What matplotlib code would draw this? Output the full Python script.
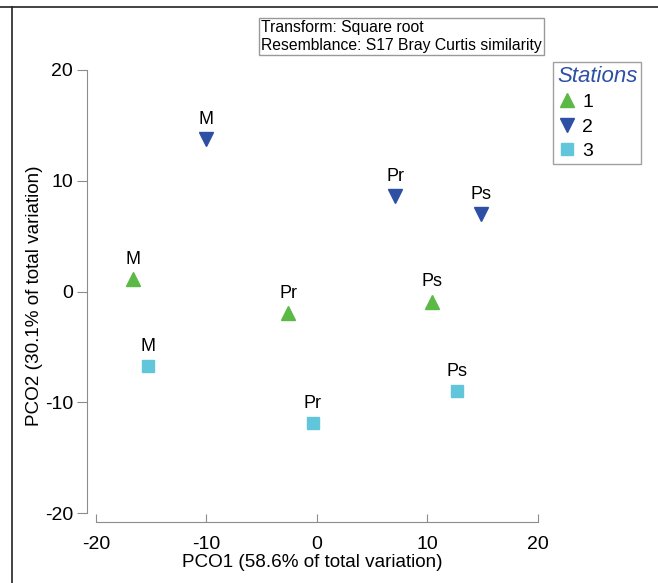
import matplotlib.pyplot as plt
from matplotlib.lines import Line2D

plt.rcParams['font.family'] = ['Liberation Sans', 'DejaVu Sans']
plt.rcParams['axes.unicode_minus'] = False

# PCO scores per station, sites M / Pr / Ps
sites = ["M", "Pr", "Ps"]
stations = ["1", "2", "3"]
pco1 = {
    "1": [-16.6, -2.6, 10.4],
    "2": [-10.0, 7.1, 14.8],
    "3": [-15.3, -0.4, 12.7],
}
pco2 = {
    "1": [1.1, -1.9, -0.9],
    "2": [13.8, 8.6, 7.0],
    "3": [-6.7, -11.9, -9.0],
}
ticks = [-20, -10, 0, 10, 20]

markers = {"1": "^", "2": "v", "3": "s"}
colors = {"1": "#5cb946", "2": "#2d4fa4", "3": "#62c6db"}
msizes = {"1": 10.5, "2": 10.5, "3": 9}

fig = plt.figure(figsize=(6.58, 5.83), dpi=100)
ax = fig.add_axes([87 / 658, 1 - 522 / 583, 451 / 658, 452 / 583])

for st in stations:
    ax.plot(pco1[st], pco2[st], linestyle="none", marker=markers[st],
            color=colors[st], markersize=msizes[st], label=st)
    for name, x, y in zip(sites, pco1[st], pco2[st]):
        ax.annotate(name, (x, y), xytext=(0, 8), textcoords="offset points",
                    ha="center", va="bottom", fontsize=13)

ax.set_xlim(-20.8, 20)
ax.set_ylim(-20.8, 20)
ax.set_xticks(ticks)
ax.set_yticks(ticks)
ax.spines["top"].set_visible(False)
ax.spines["right"].set_visible(False)
for s in ["left", "bottom"]:
    ax.spines[s].set_bounds(-20, 20)
    ax.spines[s].set_color("#8c8c8c")
ax.tick_params(axis="y", direction="out", length=7, color="#8c8c8c",
               labelsize=14, pad=3)
ax.tick_params(axis="x", direction="in", length=6, color="#8c8c8c",
               labelsize=14, pad=10)
ax.set_xlabel("PCO1 (58.6% of total variation)", fontsize=13.6, labelpad=1)
ax.set_ylabel("PCO2 (30.1% of total variation)", fontsize=13.6, labelpad=1)

# info box
fig.text(261 / 658, 1 - 36.5 / 583,
         "Transform: Square root\nResemblance: S17 Bray Curtis similarity",
         fontsize=11.3, va="center", ha="left", linespacing=1.25,
         bbox=dict(boxstyle="square,pad=0.12", fc="white", ec="#999999", lw=1))

leg = ax.legend(loc="upper left", bbox_to_anchor=(553 / 658, 1 - 62 / 583),
                bbox_transform=fig.transFigure, frameon=True, fancybox=False,
                title="Stations", fontsize=14, handletextpad=0.3,
                handlelength=1.0, labelspacing=0.35, borderpad=0.2,
                borderaxespad=0, markerscale=1.0)
leg.get_frame().set_edgecolor("#888888")
leg.get_frame().set_linewidth(1)
t = leg.get_title()
t.set_fontsize(16)
t.set_style("italic")
t.set_color("#2d4fa4")
leg._legend_box.align = "left"

# page frame lines
fig.add_artist(Line2D([0, 1], [1 - 7 / 583, 1 - 7 / 583], color="#222222", lw=1.2,
                      transform=fig.transFigure))
fig.add_artist(Line2D([12 / 658, 12 / 658], [0, 1 - 7 / 583], color="#222222", lw=1.2,
                      transform=fig.transFigure))

fig.savefig("out.png", dpi=100)
